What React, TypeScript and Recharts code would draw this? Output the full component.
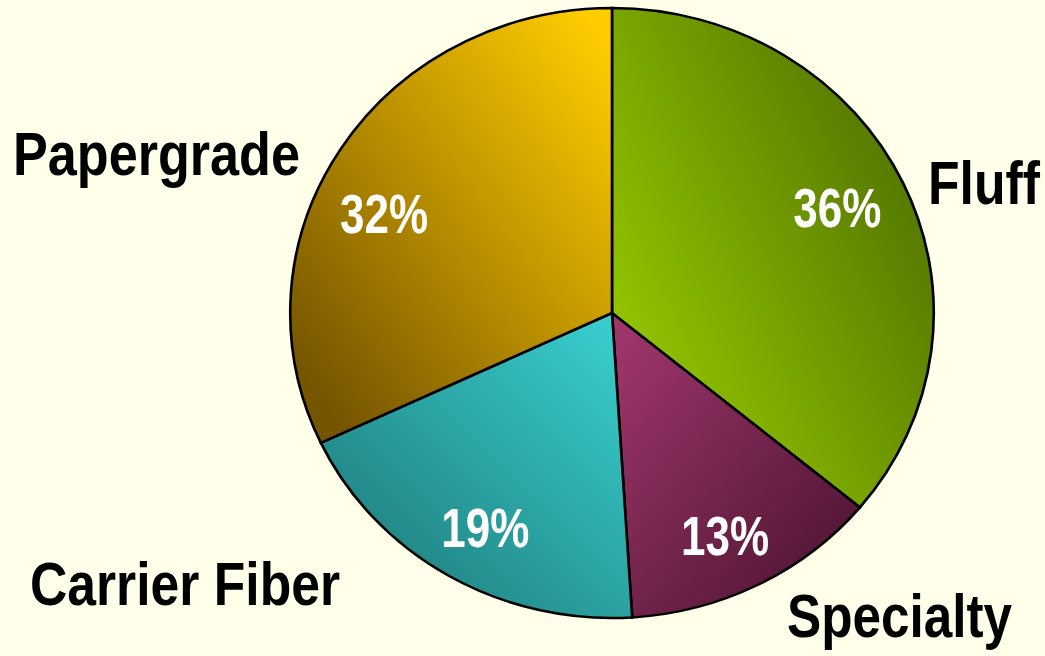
import React from "react";
import { Cell, Pie, PieChart } from "recharts";

// share of each pulp grade, clockwise from 12 o'clock
const gradeNames = ["Fluff", "Specialty", "Carrier Fiber", "Papergrade"];
const gradeShares = [36, 13, 19, 32];

// gradient stops per grade: [light, dark] and direction
const gradeGradients: Record<string, { from: string; to: string; x1: number; y1: number; x2: number; y2: number }> = {
  Fluff: { from: "#99cc00", to: "#4a6b00", x1: 0.05, y1: 0.85, x2: 1, y2: 0.15 },
  Specialty: { from: "#a3386e", to: "#45112c", x1: 0, y1: 0, x2: 1, y2: 1 },
  "Carrier Fiber": { from: "#3ad2d2", to: "#1c7272", x1: 1, y1: 0, x2: 0, y2: 1 },
  Papergrade: { from: "#ffcc00", to: "#765500", x1: 0.9, y1: 0, x2: 0.05, y2: 0.85 },
};

// where each category name sits beside the pie (start x, baseline y, text width)
const nameSpots: Record<string, { x: number; y: number; w: number }> = {
  Fluff: { x: 928, y: 204, w: 112 },
  Specialty: { x: 787, y: 637, w: 225 },
  "Carrier Fiber": { x: 30, y: 605, w: 310 },
  Papergrade: { x: 13, y: 175, w: 287 },
};

// Papergrade's percentage sits a little further round than its mid angle
const labelAngleNudge: Record<string, number> = { Papergrade: 8.7 };

const data = gradeNames.map((name, i) => ({ name, value: gradeShares[i] }));

const W = 1045;
const H = 656;
const CX = 612;
const CY = 313;
const R = 305;
const RAD = Math.PI / 180;
const FONT = "'Liberation Sans', Arial, sans-serif";

// tall, narrow bold lettering: normal-width glyphs stretched vertically
function TallText({ x, y, size, stretch, width, anchor, fill, children }: any) {
  return (
    <text
      x={0}
      y={0}
      transform={`translate(${x},${y}) scale(1,${stretch})`}
      textAnchor={anchor}
      fill={fill}
      fontFamily={FONT}
      fontWeight="bold"
      fontSize={size}
      textLength={width}
      lengthAdjust="spacingAndGlyphs"
    >
      {children}
    </text>
  );
}

function renderLabel(props: any) {
  const { cx, cy, midAngle, name, value } = props;
  const a = (midAngle + (labelAngleNudge[name] ?? 0)) * RAD;
  const r = 249;
  const x = cx + r * Math.cos(a);
  const y = cy - r * Math.sin(a);
  const spot = nameSpots[name];
  return (
    <g>
      <TallText x={x} y={y + 20} size={44} stretch={1.25} width={88} anchor="middle" fill="#ffffff">
        {`${value}%`}
      </TallText>
      {spot && (
        <TallText x={spot.x} y={spot.y} size={52} stretch={1.18} width={spot.w} anchor="start" fill="#000000">
          {name}
        </TallText>
      )}
    </g>
  );
}

export default function App() {
  return (
    <div style={{ position: "fixed", left: 0, top: 0, width: W, height: H, background: "#ffffea" }}>
      <style>{`.recharts-pie-sector { transform: scaleX(1.055); transform-origin: ${CX}px ${CY}px; }`}</style>
      <PieChart width={W} height={H} margin={{ top: 0, right: 0, bottom: 0, left: 0 }}>
        <defs>
          {gradeNames.map((n, i) => {
            const g = gradeGradients[n];
            return (
              <linearGradient key={n} id={`grade-${i}`} x1={g.x1} y1={g.y1} x2={g.x2} y2={g.y2}>
                <stop offset="0%" stopColor={g.from} />
                <stop offset="100%" stopColor={g.to} />
              </linearGradient>
            );
          })}
        </defs>
        <Pie
          data={data}
          dataKey="value"
          nameKey="name"
          cx={CX}
          cy={CY}
          outerRadius={R}
          startAngle={90}
          endAngle={-270}
          stroke="#000000"
          strokeWidth={2.5}
          label={renderLabel}
          labelLine={false}
          isAnimationActive={false}
        >
          {data.map((d, i) => (
            <Cell key={d.name} fill={`url(#grade-${i})`} />
          ))}
        </Pie>
      </PieChart>
    </div>
  );
}
